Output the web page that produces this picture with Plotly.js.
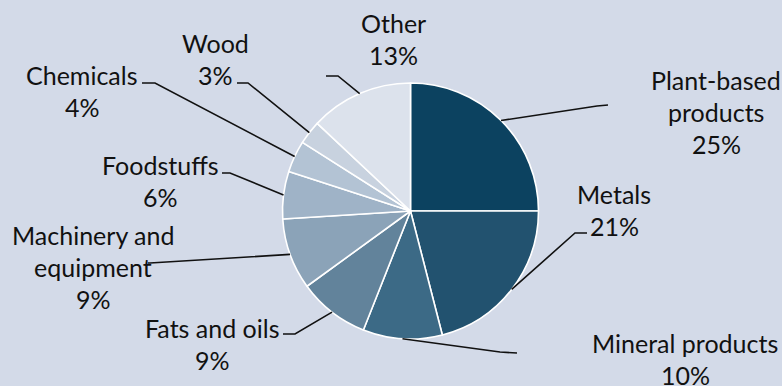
<!DOCTYPE html>
<html>
<head>
<meta charset="utf-8">
<script src="https://cdn.plot.ly/plotly-3.0.1.min.js"></script>
<style>html,body{margin:0;padding:0;background:#d3dae8;}#chart{width:782px;height:386px;}</style>
</head>
<body>
<div id="chart"></div>
<script>
// ---- data ----
const categories = ['Plant-based products', 'Metals', 'Mineral products', 'Fats and oils',
  'Machinery and equipment', 'Foodstuffs', 'Chemicals', 'Wood', 'Other'];
const shares = [25, 21, 10, 9, 9, 6, 4, 3, 13];
const displayLabels = ['Plant-based<br>products', 'Metals', 'Mineral products', 'Fats and oils',
  'Machinery and<br>equipment', 'Foodstuffs', 'Chemicals', 'Wood', 'Other'];
const sliceColors = ['#0c4260', '#22526f', '#3c6a86', '#62839b', '#8ba3b8',
  '#9fb3c7', '#b3c3d4', '#c8d2df', '#dce2ec'];

// ---- layout (pixels) ----
const W = 782, H = 386;
const CX = 410.5, CY = 211, R = 128;
const labelX = [716, 614, 685, 212, 93, 160, 82, 216, 393];
const labelY0 = [80, 194, 343, 328, 235, 165, 75, 43, 23];
const lineGap = 32;
const leaderStart = [[608,105],[587,233],[517,353],[283,334],[148,263],[222,173],[142,83],[237,83],[326,76]];
const leaderElbow = [[597,106],[575,233],[500,352],[295,334],[150,263],[230,173],[155,83],[248,83],[338,76]];

const px = x => x / W, py = y => 1 - y / H;
const total = shares.reduce((a, b) => a + b, 0);

const annotations = [];
const shapes = [];
let cum = 0;
shares.forEach((v, i) => {
  const mid = (cum + v / 2) / total * 2 * Math.PI;
  cum += v;
  const ax = CX + R * Math.sin(mid), ay = CY - R * Math.cos(mid);
  const lines = displayLabels[i].split('<br>').concat([Math.round(v / total * 100) + '%']);
  lines.forEach((t, k) => {
    annotations.push({
      text: t, x: px(labelX[i]), y: py(labelY0[i] + k * lineGap), xref: 'paper', yref: 'paper',
      xanchor: 'center', yanchor: 'middle', showarrow: false,
      font: {family: 'Lato, sans-serif', size: 25, color: '#111111'}
    });
  });
  const s = leaderStart[i], e = leaderElbow[i];
  shapes.push({
    type: 'path', xref: 'paper', yref: 'paper',
    path: `M ${px(s[0])} ${py(s[1])} L ${px(e[0])} ${py(e[1])} L ${px(ax)} ${py(ay)}`,
    line: {color: '#111111', width: 1.6}
  });
});

const trace = {
  type: 'pie', labels: categories, values: shares, sort: false, direction: 'clockwise', rotation: 0,
  textinfo: 'none', hoverinfo: 'label+percent',
  marker: {colors: sliceColors, line: {color: '#ffffff', width: 1.6}},
  domain: {x: [px(CX - R), px(CX + R)], y: [py(CY + R), py(CY - R)]}
};

Plotly.newPlot('chart', [trace], {
  width: W, height: H, margin: {l: 0, r: 0, t: 0, b: 0},
  paper_bgcolor: '#d3dae8', plot_bgcolor: '#d3dae8', showlegend: false,
  annotations: annotations, shapes: shapes
}, {displayModeBar: false, staticPlot: true});
</script>
</body>
</html>
